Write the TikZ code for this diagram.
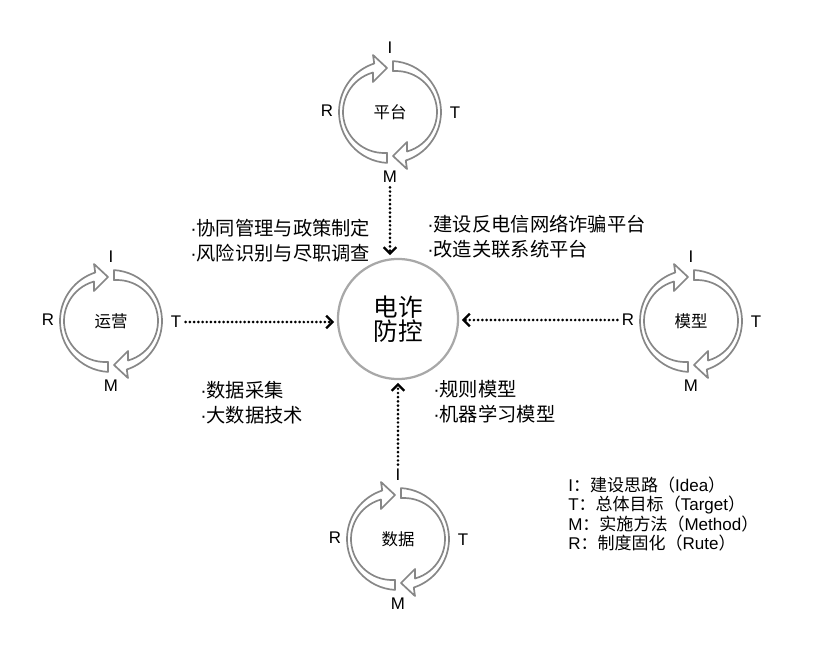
\documentclass[tikz,border=0pt]{standalone}
\usepackage{fontspec}
\setmainfont{Liberation Sans}
\newfontfamily\cjk{Noto Sans CJK SC}
\usetikzlibrary{arrows.meta}

\definecolor{ringgray}{RGB}{135,135,135}
\definecolor{coregray}{RGB}{168,168,168}

\begin{document}
\begin{tikzpicture}[x=0.025cm, y=-0.025cm,
  ring/.style = {draw=ringgray, line width=1.2pt, line join=round},
  core/.style = {circle, draw=coregray, line width=1.6pt,
     minimum size=3.0cm, inner sep=0pt, align=center,
     font=\cjk\fontsize{17.5}{17}\selectfont},
  hub/.style = {font=\cjk\fontsize{11.7}{14}\selectfont},
  tag/.style = {font=\fontsize{12}{14}\selectfont, inner sep=3pt},
  notes/.style = {anchor=west, align=left, inner sep=0pt,
     font=\fontsize{13.7}{17.7}\selectfont},
  legend/.style = {anchor=west, align=left, inner sep=0pt,
     font=\fontsize{12.1}{13.7}\selectfont},
  dotarrow/.style = {line width=2.1pt, line cap=round,
     dash pattern=on 0pt off 3pt, shorten >=2pt,
     -{Straight Barb[length=4.5pt, width=9pt, line width=1.6pt]}}]

\useasboundingbox (0,0) rectangle (828,645);

% rings: centre x / centre y / name / text
\foreach \cx/\cy/\nm/\txt in {390/112/pt/平台, 111/321/yy/运营, 691/321/mx/模型, 398/539/sj/数据} {
  \begin{scope}[shift={(\cx,\cy)}, yscale=-1]
    \foreach \r in {0,180}
      \draw[ring, rotate=\r] (86.6:51) arc[start angle=86.6, end angle=-72, radius=51]
        -- (17,-57) -- (3,-44) -- (17,-30)
        -- ([shift={(6,0)}]-74.4:41) arc[start angle=-74.4, end angle=94.2, radius=41] -- cycle;
  \end{scope}
  \node[hub] (\nm) at (\cx,\cy) {\txt};
  \node[tag] (\nm-I) at (\cx,\cy-64) {I};
  \node[tag] (\nm-T) at (\cx+65,\cy+1) {T};
  \node[tag] (\nm-M) at (\cx,\cy+65) {M};
  \node[tag] (\nm-R) at (\cx-63,\cy-1) {R};
}

\node[core] (core) at (398,319) {电诈\\防控};

\node[notes] (pt-note) at (190,241) {·{\cjk 协同管理与政策制定}\\·{\cjk 风险识别与尽职调查}};
\node[notes] (mx-note) at (427,237) {·{\cjk 建设反电信网络诈骗平台}\\·{\cjk 改造关联系统平台}};
\node[notes] (yy-note) at (200,403) {·{\cjk 数据采集}\\·{\cjk 大数据技术}};
\node[notes] (sj-note) at (433,402) {·{\cjk 规则模型}\\·{\cjk 机器学习模型}};

\node[legend] (key) at (568,514) {I{\cjk ：建设思路（}Idea{\cjk ）}\\
  T{\cjk ：总体目标（}Target{\cjk ）}\\
  M{\cjk ：实施方法（}Method{\cjk ）}\\
  R{\cjk ：制度固化（}Rute{\cjk ）}};

\draw[dotarrow] (pt-M.south) -- (pt-M.south |- core.north);
\draw[dotarrow] (yy-T.east) -- (yy-T.east -| core.west);
\draw[dotarrow] (mx-R.west) -- (mx-R.west -| core.east);
\draw[dotarrow] (sj-I.north) -- (sj-I.north |- core.south);

\end{tikzpicture}
\end{document}
